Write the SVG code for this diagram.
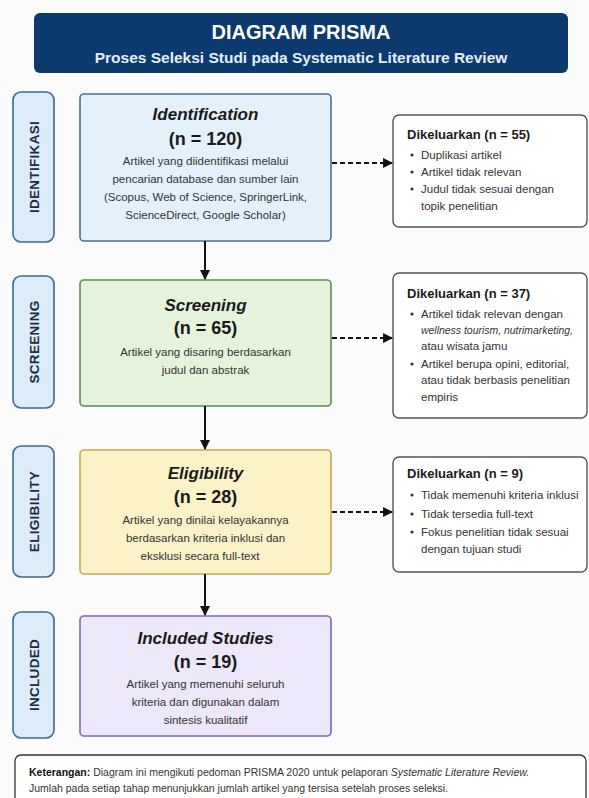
<svg xmlns="http://www.w3.org/2000/svg" width="589" height="798" viewBox="0 0 589 798">
<defs>
<marker id="ah" viewBox="0 0 10 10" refX="9" refY="5" markerWidth="5" markerHeight="5" orient="auto" markerUnits="strokeWidth">
<path d="M0,0 L10,5 L0,10 z" fill="#111"/>
</marker>
<marker id="ahd" viewBox="0 0 10 10" refX="9" refY="5" markerWidth="5.5" markerHeight="5.5" orient="auto" markerUnits="strokeWidth">
<path d="M0,0 L10,5 L0,10 z" fill="#111"/>
</marker>
</defs>
<style>
text{font-family:"Liberation Sans",Arial,sans-serif;fill:#222}
.side rect{fill:#dcecf9;stroke:#3f6a94;stroke-width:1.6}
.side text{font-size:13.5px;font-weight:bold;fill:#1c2a3a;text-anchor:middle;letter-spacing:0.3px}
.ttl{font-size:17px;font-weight:bold;font-style:italic;text-anchor:middle;fill:#1a1a1a}
.num{font-size:18px;font-weight:bold;text-anchor:middle;fill:#1a1a1a}
.body{font-size:11.5px;text-anchor:middle;fill:#333}
.ex rect{fill:#fff;stroke:#555;stroke-width:1.4}
.exh{font-size:13px;font-weight:bold;fill:#1a1a1a}
.ext{font-size:11.5px;fill:#333}
.ex circle{fill:#333}
.solid{stroke:#111;stroke-width:2;fill:none}
.dash{stroke:#111;stroke-width:1.8;fill:none;stroke-dasharray:5 3}
</style>
<rect width="589" height="798" fill="#fbfbfb"/>

<g id="header">
<rect x="34" y="13" width="534" height="60" rx="6" fill="#0c3a6e"/>
<text x="301" y="39" text-anchor="middle" style="font-size:20px;font-weight:bold;fill:#fff">DIAGRAM PRISMA</text>
<text x="301" y="63" text-anchor="middle" style="font-size:15.5px;font-weight:bold;fill:#e8eef6">Proses Seleksi Studi pada Systematic Literature Review</text>
</g>

<g id="label-identifikasi" class="side">
<rect x="13" y="92" width="41" height="150" rx="8"/>
<text transform="translate(38.5,167) rotate(-90)">IDENTIFIKASI</text>
</g>
<g id="label-screening" class="side">
<rect x="13" y="276" width="41" height="132" rx="8"/>
<text transform="translate(38.5,342) rotate(-90)">SCREENING</text>
</g>
<g id="label-eligibility" class="side">
<rect x="13" y="446" width="41" height="131" rx="8"/>
<text transform="translate(38.5,511.5) rotate(-90)">ELIGIBILITY</text>
</g>
<g id="label-included" class="side">
<rect x="13" y="612" width="41" height="126" rx="8"/>
<text transform="translate(38.5,675) rotate(-90)">INCLUDED</text>
</g>

<g id="identification">
<rect x="80" y="94" width="251" height="147" rx="4" fill="#e4f1fb" stroke="#48709a" stroke-width="1.6"/>
<text class="ttl" x="205.5" y="120">Identification</text>
<text class="num" x="205.5" y="145">(n = 120)</text>
<text class="body" x="205.5" y="165">Artikel yang diidentifikasi melalui</text>
<text class="body" x="205.5" y="183">pencarian database dan sumber lain</text>
<text class="body" x="205.5" y="201">(Scopus, Web of Science, SpringerLink,</text>
<text class="body" x="205.5" y="219">ScienceDirect, Google Scholar)</text>
</g>

<g id="screening">
<rect x="80" y="280" width="251" height="126" rx="4" fill="#e5f3dc" stroke="#5a8f4e" stroke-width="1.6"/>
<text class="ttl" x="205.5" y="311">Screening</text>
<text class="num" x="205.5" y="334">(n = 65)</text>
<text class="body" x="205.5" y="356">Artikel yang disaring berdasarkan</text>
<text class="body" x="205.5" y="374">judul dan abstrak</text>
</g>

<g id="eligibility">
<rect x="80" y="450" width="251" height="124" rx="4" fill="#fcf2c8" stroke="#c8a84e" stroke-width="1.6"/>
<text class="ttl" x="205.5" y="479">Eligibility</text>
<text class="num" x="205.5" y="503">(n = 28)</text>
<text class="body" x="205.5" y="524">Artikel yang dinilai kelayakannya</text>
<text class="body" x="205.5" y="542">berdasarkan kriteria inklusi dan</text>
<text class="body" x="200" y="560">eksklusi secara full-text</text>
</g>

<g id="included">
<rect x="80" y="616" width="251" height="120" rx="4" fill="#ece7f9" stroke="#7d68b5" stroke-width="1.6"/>
<text class="ttl" x="205.5" y="644">Included Studies</text>
<text class="num" x="205.5" y="668">(n = 19)</text>
<text class="body" x="205.5" y="688">Artikel yang memenuhi seluruh</text>
<text class="body" x="205.5" y="706">kriteria dan digunakan dalam</text>
<text class="body" x="205.5" y="724">sintesis kualitatif</text>
</g>

<g id="excluded-1" class="ex">
<rect x="393" y="115" width="194" height="112" rx="6"/>
<text class="exh" x="407" y="139">Dikeluarkan (n = 55)</text>
<circle cx="412" cy="155" r="1.6"/><text class="ext" x="421" y="159">Duplikasi artikel</text>
<circle cx="412" cy="172" r="1.6"/><text class="ext" x="421" y="176">Artikel tidak relevan</text>
<circle cx="412" cy="189" r="1.6"/><text class="ext" x="421" y="193">Judul tidak sesuai dengan</text>
<text class="ext" x="421" y="210">topik penelitian</text>
</g>

<g id="excluded-2" class="ex">
<rect x="393" y="273" width="194" height="145" rx="6"/>
<text class="exh" x="407" y="298">Dikeluarkan (n = 37)</text>
<circle cx="412" cy="314" r="1.6"/><text class="ext" x="421" y="318">Artikel tidak relevan dengan</text>
<text class="ext" x="421" y="334" font-style="italic" style="font-size:11px" textLength="152" lengthAdjust="spacingAndGlyphs">wellness tourism, nutrimarketing,</text>
<text class="ext" x="421" y="350">atau wisata jamu</text>
<circle cx="412" cy="364" r="1.6"/><text class="ext" x="421" y="368">Artikel berupa opini, editorial,</text>
<text class="ext" x="421" y="384">atau tidak berbasis penelitian</text>
<text class="ext" x="421" y="401">empiris</text>
</g>

<g id="excluded-3" class="ex">
<rect x="393" y="457" width="194" height="115" rx="6"/>
<text class="exh" x="407" y="478">Dikeluarkan (n = 9)</text>
<circle cx="412" cy="495" r="1.6"/><text class="ext" x="421" y="499">Tidak memenuhi kriteria inklusi</text>
<circle cx="412" cy="514" r="1.6"/><text class="ext" x="421" y="518">Tidak tersedia full-text</text>
<circle cx="412" cy="532" r="1.6"/><text class="ext" x="421" y="536">Fokus penelitian tidak sesuai</text>
<text class="ext" x="421" y="553">dengan tujuan studi</text>
</g>

<g id="connectors">
<line class="solid" x1="205" y1="241" x2="205" y2="279" marker-end="url(#ah)"/>
<line class="solid" x1="205" y1="406" x2="205" y2="449" marker-end="url(#ah)"/>
<line class="solid" x1="205" y1="574" x2="205" y2="615" marker-end="url(#ah)"/>
<line class="dash" x1="332" y1="163" x2="392" y2="163" marker-end="url(#ahd)"/>
<line class="dash" x1="332" y1="338" x2="392" y2="338" marker-end="url(#ahd)"/>
<line class="dash" x1="332" y1="512" x2="392" y2="512" marker-end="url(#ahd)"/>
</g>

<g id="note">
<rect x="15" y="755" width="571" height="60" rx="6" fill="#fff" stroke="#333" stroke-width="1.3"/>
<text x="29" y="776" style="font-size:10.5px;fill:#333"><tspan font-weight="bold" fill="#111">Keterangan:</tspan>  Diagram ini mengikuti pedoman PRISMA 2020 untuk pelaporan <tspan font-style="italic">Systematic Literature Review.</tspan></text>
<text x="29" y="792" style="font-size:10.5px;fill:#333">Jumlah pada setiap tahap menunjukkan jumlah artikel yang tersisa setelah proses seleksi.</text>
</g>
</svg>
